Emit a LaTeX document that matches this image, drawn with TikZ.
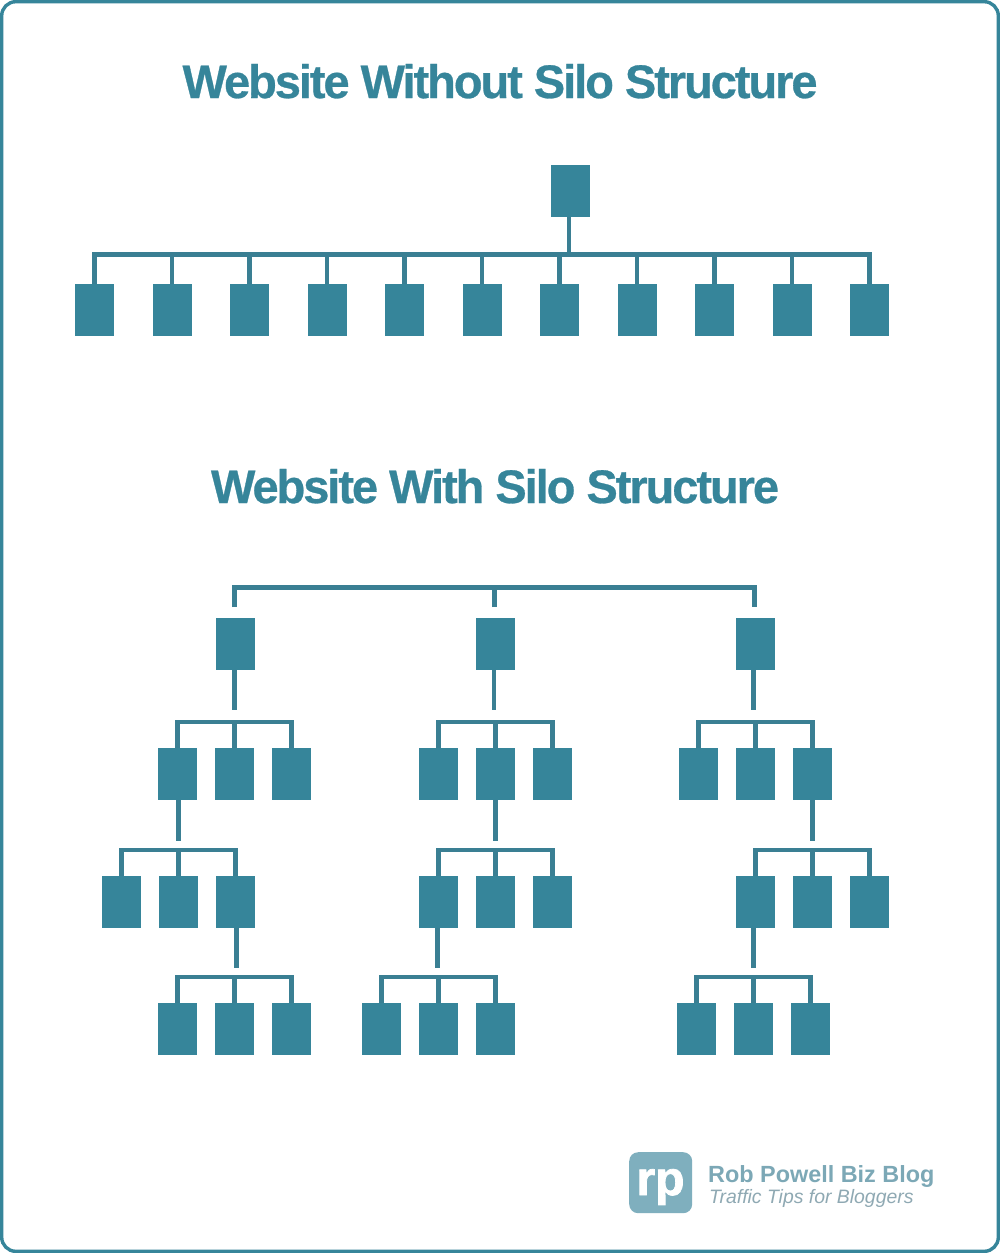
\documentclass[tikz,border=0pt]{standalone}
\usepackage{fontspec}
\setmainfont{Liberation Sans}
\newfontfamily\titlefont[LetterSpace=-4.35,FakeBold=0.6]{Liberation Sans}
\newfontfamily\logofont[FakeBold=1.6]{Liberation Sans}
\definecolor{teal}{HTML}{36859A}
\definecolor{linkteal}{HTML}{3A7F93}
\definecolor{logoteal}{HTML}{7FAFBE}
\definecolor{logotext}{HTML}{7CA8B6}
\definecolor{logosub}{HTML}{8FA9B3}
\tikzset{
  pagebox/.style={fill=teal,draw=none,minimum width=39pt,minimum height=52pt,inner sep=0pt,outer sep=0pt,anchor=north west},
  link/.style={draw=linkteal,line width=4.2pt,line cap=butt,line join=miter},
  titletext/.style={text=teal,font=\titlefont\bfseries\fontsize{47}{50}\selectfont,inner sep=0pt,anchor=base},
}
% #1 prefix, #2 #3 #4 left edges of the boxes, #5 top of the boxes
\newcommand{\triplet}[5]{%
  \node[pagebox] (#1a) at (#2,#5) {};
  \node[pagebox] (#1b) at (#3,#5) {};
  \node[pagebox] (#1c) at (#4,#5) {};
  \coordinate (#1bar) at (#3,#5-25.7);
  \draw[link] (#1a.north) -- (#1a.north |- #1bar) -- (#1c.north |- #1bar) -- (#1c.north);
  \draw[link] (#1b.north) -- (#1b.north |- #1bar);
}
% #1 parent box, #2 prefix of the group it feeds, #3 x offset of the line, #4 gap above the bar
\newcommand{\dropline}[4]{%
  \coordinate (#2stub) at ([xshift=#3pt]#1.south |- #2bar);
  \draw[link] ([xshift=#3pt]#1.south) -- ([yshift=#4pt]#2stub);
}
\begin{document}
\begin{tikzpicture}[x=1pt,y=-1pt]
\useasboundingbox (0,0) rectangle (1000,1253);
\fill[white] (0,0) rectangle (1000,1253);
\draw[draw=teal,line width=3.4pt,rounded corners=14pt] (1.7,1.7) rectangle (998.3,1251.3);

\node[titletext] (title1) at (500,98) {Website Without Silo Structure};
\node[titletext] (title2) at (495,503) {Website With Silo Structure};

% --- without silos
\node[pagebox] (root) at (551,165) {};
\foreach \i/\x in {1/75,2/152.5,3/230,4/307.5,5/385,6/462.5,7/540,8/617.5,9/695,10/772.5,11/850}{
  \node[pagebox] (c\i) at (\x,284) {};
}
\coordinate (flat) at (570,254.5);
\draw[link] (c1.north) -- (c1.north |- flat) -- (c11.north |- flat) -- (c11.north);
\foreach \i in {2,...,10}{
  \draw[link] (c\i.north) -- (c\i.north |- flat);
}
\draw[link] ([xshift=-1.2pt]root.south) -- ([xshift=-1.2pt]root.south |- flat);

% --- with silos: top level
\node[pagebox] (A) at (216,618) {};
\node[pagebox] (B) at (476,618) {};
\node[pagebox] (C) at (736,618) {};
\coordinate (topbar) at (495,587.5);
\coordinate (Astub) at ([xshift=-1pt,yshift=11pt]A.north);
\coordinate (Bstub) at ([xshift=-1pt,yshift=11pt]B.north);
\coordinate (Cstub) at ([xshift=-1pt,yshift=11pt]C.north);
\draw[link] (Astub) -- (Astub |- topbar) -- (Cstub |- topbar) -- (Cstub);
\draw[link] (Bstub) -- (Bstub |- topbar);

% left silo
\triplet{A2}{158}{215}{272}{748}
\dropline{A}{A2}{-1}{12}
\triplet{A3}{102}{159}{216}{875.5}
\dropline{A2a}{A3}{1}{9}
\triplet{A4}{158}{215}{272}{1003}
\dropline{A3c}{A4}{1}{9}

% middle silo
\triplet{B2}{419}{476}{533}{748}
\dropline{B}{B2}{-1.5}{12}
\triplet{B3}{419}{476}{533}{875.5}
\dropline{B2b}{B3}{0}{9}
\triplet{B4}{362}{419}{476}{1003}
\dropline{B3a}{B4}{-1}{9}

% right silo
\triplet{C2}{679}{736}{793}{748}
\dropline{C}{C2}{-2}{12}
\triplet{C3}{736}{793}{850}{875.5}
\dropline{C2c}{C3}{0}{9}
\triplet{C4}{677}{734}{791}{1003}
\dropline{C3a}{C4}{-2}{9}

% --- logo
\node[fill=logoteal,draw=none,rounded corners=9pt,minimum width=63pt,minimum height=61pt,inner sep=0pt,anchor=north west] (logo) at (629,1152) {};
\node[text=white,font=\logofont\bfseries\fontsize{48}{48}\selectfont,inner sep=0pt,anchor=base] (rp) at (660.5,1195) {rp};
\node[text=logotext,font=\bfseries\fontsize{23.4}{26}\selectfont,inner sep=0pt,anchor=base west] (brand) at (708,1182) {Rob Powell Biz Blog};
\node[text=logosub,font=\itshape\fontsize{19.4}{20}\selectfont,inner sep=0pt,anchor=base west] (tag) at (709,1203) {Traffic Tips for Bloggers};
\end{tikzpicture}
\end{document}
